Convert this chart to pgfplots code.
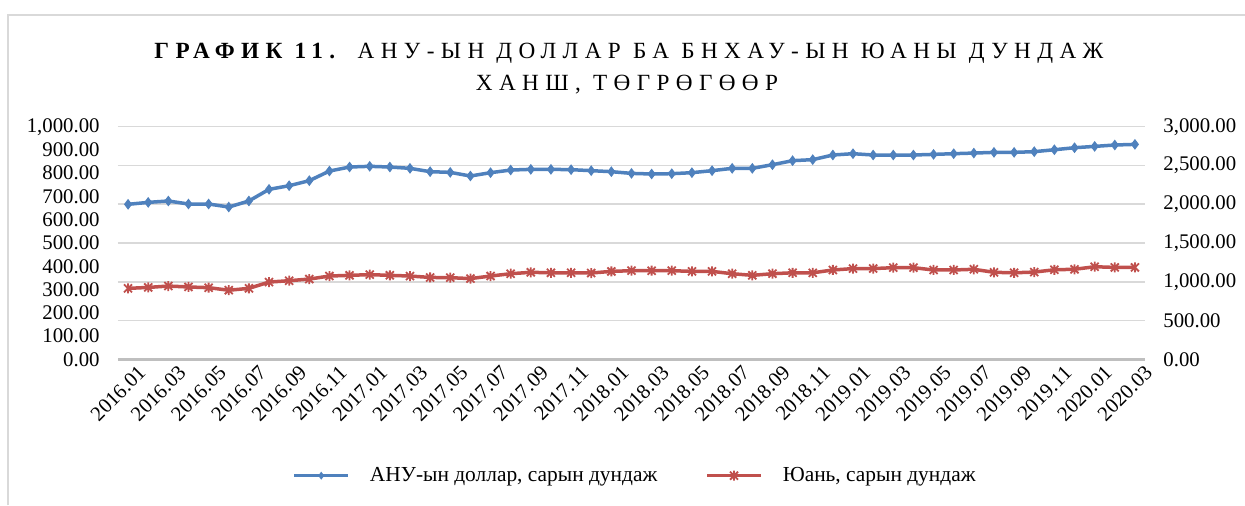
\documentclass[border=0pt]{standalone}
\usepackage{pgfplots}
\pgfplotsset{compat=1.18}
\usepackage{pgfplotstable}
\usepackage{fontspec}
\setmainfont{Liberation Serif}
\newfontfamily\titlefont[LetterSpace=27.5]{Liberation Serif}
\definecolor{ublue}{HTML}{4F81BD}
\definecolor{ured}{HTML}{C0504D}
\definecolor{gridc}{HTML}{D9D9D9}
\definecolor{axc}{HTML}{BFBFBF}
\pgfdeclareplotmark{xstar}{%
  \pgfpathmoveto{\pgfpoint{-0.8\pgfplotmarksize}{-0.8\pgfplotmarksize}}%
  \pgfpathlineto{\pgfpoint{0.8\pgfplotmarksize}{0.8\pgfplotmarksize}}%
  \pgfpathmoveto{\pgfpoint{-0.8\pgfplotmarksize}{0.8\pgfplotmarksize}}%
  \pgfpathlineto{\pgfpoint{0.8\pgfplotmarksize}{-0.8\pgfplotmarksize}}%
  \pgfpathmoveto{\pgfpoint{0pt}{-\pgfplotmarksize}}%
  \pgfpathlineto{\pgfpoint{0pt}{\pgfplotmarksize}}%
  \pgfusepathqstroke}
\pgfplotstableread{
x usd cny
0 1999 305
1 2024 309
2 2042 315
3 2003 311
4 2003 308
5 1964 297
6 2042 305
7 2192 332
8 2239 338
9 2304 345
10 2428 358
11 2480 361
12 2489 364
13 2480 361
14 2463 358
15 2420 352
16 2411 351
17 2364 347
18 2407 358
19 2441 368
20 2450 374
21 2450 372
22 2446 372
23 2433 371
24 2420 378
25 2398 381
26 2390 381
27 2394 381
28 2407 378
29 2433 378
30 2463 368
31 2463 361
32 2510 368
33 2562 372
34 2575 372
35 2635 384
36 2652 390
37 2635 390
38 2635 394
39 2635 394
40 2643 384
41 2652 384
42 2660 387
43 2669 374
44 2669 372
45 2678 375
46 2703 385
47 2729 387
48 2746 398
49 2764 395
50 2772 395
}\datatable
\pgfplotsset{
  common/.style={
    width=513.5pt, height=116.3pt, scale only axis,
    at={(0,0)}, anchor=south west,
    xmin=-0.5, xmax=50.5,
    major tick length=0pt,
    tick label style={font=\fontsize{10.4}{12}\selectfont},
    /pgf/number format/fixed,
    /pgf/number format/fixed zerofill,
    /pgf/number format/precision=2,
    /pgf/number format/1000 sep={,},
    /pgf/number format/assume math mode=true,
    clip=false,
  },
  leglong/.style={legend image code/.code={\draw[mark repeat=2, mark phase=2, ##1] plot coordinates {(0pt,0pt) (13.5pt,0pt) (27pt,0pt)};}},
  usdstyle/.style={ublue, line width=1.75pt, mark=diamond*, mark size=2.3pt, mark options={fill=ublue, line width=0.5pt}},
  cnystyle/.style={ured, line width=1.75pt, mark=xstar, mark size=2.5pt, mark options={line width=0.9pt}},
}
\begin{document}
\begin{tikzpicture}
\path[use as bounding box] (-59pt,-72.85pt) rectangle (563.5pt,179.65pt);
\draw[gridc, line width=0.75pt] (-55pt,-73pt) -- (-55pt,172.15pt) -- (564pt,172.15pt);
% right axis (USD) with grid
\begin{axis}[common,
  axis y line*=right, axis x line*=bottom,
  x axis line style={axc, line width=1.6pt, -},
  y axis line style={draw=none},
  ymin=0, ymax=3000, ytick={0,500,...,3000},
  ymajorgrids, grid style={gridc, line width=0.75pt},
  yticklabel style={inner sep=0pt, anchor=west, xshift=9pt},
  xtick={0,2,...,50},
  xticklabels={2016.01,2016.03,2016.05,2016.07,2016.09,2016.11,2017.01,2017.03,2017.05,2017.07,2017.09,2017.11,2018.01,2018.03,2018.05,2018.07,2018.09,2018.11,2019.01,2019.03,2019.05,2019.07,2019.09,2019.11,2020.01,2020.03},
  xticklabel style={rotate=45, anchor=east, inner sep=1pt, xshift=2.5pt, yshift=-8.5pt},
]
\addplot[usdstyle] table[x=x, y=usd] {\datatable};
\end{axis}
% left axis (CNY)
\begin{axis}[common,
  axis y line*=left, axis x line=none,
  y axis line style={draw=none},
  ymin=0, ymax=1000, ytick={0,100,...,1000},
  yticklabel style={inner sep=0pt, anchor=east, xshift=-9pt},
  legend columns=2,
  legend style={at={(0.5044,-0.5004)}, anchor=center, draw=none, fill=none,
    font=\fontsize{10.7}{12}\selectfont,
    /tikz/every odd column/.append style={column sep=8pt},
    /tikz/every even column/.append style={column sep=22pt}},
  legend cell align=left,
]
\addlegendimage{usdstyle, mark size=1.6pt, leglong}
\addlegendentry{АНУ-ын доллар, сарын дундаж}
\addplot[cnystyle, leglong] table[x=x, y=cny] {\datatable};
\addlegendentry{Юань, сарын дундаж}
\end{axis}
\node[anchor=base] at (255.5pt,150.65pt) {\fontsize{11.6}{13}\selectfont\titlefont\textbf{ГРАФИК 11.} АНУ-ЫН ДОЛЛАР БА БНХАУ-ЫН ЮАНЫ ДУНДАЖ};
\node[anchor=base] at (254.5pt,134.65pt) {\fontsize{11.6}{13}\selectfont\titlefont ХАНШ, ТӨГРӨГӨӨР};
\end{tikzpicture}
\end{document}
